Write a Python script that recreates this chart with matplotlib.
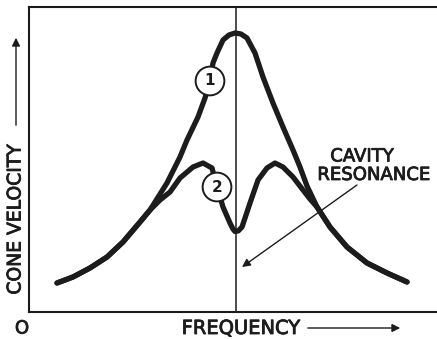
import matplotlib
matplotlib.use("Agg")
import matplotlib.pyplot as plt
import matplotlib.patheffects as pe

# Frequency (arbitrary units, 0-100) and cone velocity (arbitrary units, 0-100)
freq1 = [6.86, 10.78, 14.95, 19.12, 23.04, 27.21, 29.66, 33.82, 37.01, 38.73,
         41.42, 43.14, 44.36, 45.10, 46.08, 47.55, 49.02, 50.49, 51.96, 53.43,
         55.39, 57.35, 59.80, 62.25, 64.71, 66.42, 68.14, 70.59, 73.77, 77.94,
         82.84, 87.75, 92.65]
vel1 = [9.51, 11.48, 14.43, 18.03, 22.95, 29.51, 33.44, 42.30, 50.82, 56.39,
        63.93, 70.16, 75.74, 81.64, 84.92, 89.18, 90.82, 91.48, 91.15, 89.84,
        84.92, 77.05, 68.52, 60.66, 53.11, 47.54, 41.31, 34.43, 27.87, 21.31,
        16.07, 12.79, 9.84]

freq2 = [6.86, 10.78, 14.95, 19.12, 23.04, 27.21, 29.66, 32.11, 34.56, 37.01,
         40.20, 42.65, 44.85, 46.08, 47.55, 48.50, 49.26, 50.00, 50.49, 51.30,
         52.21, 54.17, 56.13, 58.33, 60.29, 62.25, 64.71, 67.16, 68.87, 70.59,
         73.77, 77.94, 82.84, 87.75, 92.65]
vel2 = [9.51, 11.48, 14.43, 18.03, 22.95, 29.51, 33.44, 36.72, 39.34, 43.93,
        47.54, 48.85, 47.21, 40.98, 34.43, 31.50, 29.18, 27.20, 26.40, 26.60,
        27.87, 35.74, 43.28, 47.21, 48.85, 47.54, 44.26, 40.00, 37.05, 34.43,
        27.87, 21.31, 16.07, 12.79, 9.84]

resonance_freq = 50.74
label1_pos = (44.36, 75.74)
label2_pos = (46.08, 40.98)
arrow_tail = (80.39, 41.64)
arrow_head = (52.21, 14.75)

fig = plt.figure(figsize=(4.37, 3.39), dpi=100)
ax = fig.add_axes([29/437, 27/339, 1 - 29/437, 305/339])
ax.set_xlim(0, 100)
ax.set_ylim(0, 100)
ax.set_xticks([])
ax.set_yticks([])
for s in ["left", "top", "bottom"]:
    ax.spines[s].set_linewidth(1.5)
    ax.spines[s].set_color("#1a1a1a")
ax.spines["right"].set_visible(False)

ink = "#1c1c1c"
ax.axvline(resonance_freq, color=ink, lw=1.1, zorder=1)
ax.plot(freq1, vel1, color=ink, lw=3.8, solid_capstyle="round",
        solid_joinstyle="round", zorder=2)
ax.plot(freq2, vel2, color=ink, lw=3.8, solid_capstyle="round",
        solid_joinstyle="round", zorder=2)

thick = [pe.withStroke(linewidth=0.6, foreground=ink)]
for txt, pos in [("1", label1_pos), ("2", label2_pos)]:
    ax.text(pos[0], pos[1], txt, ha="center", va="center", fontsize=11,
            fontweight="bold", color=ink, zorder=5,
            bbox=dict(boxstyle="circle,pad=0.45", fc="white", ec=ink, lw=1.4))

ax.annotate("", xy=arrow_head, xytext=arrow_tail,
            arrowprops=dict(arrowstyle="-|>", lw=1.0, color=ink,
                            mutation_scale=12, shrinkA=0, shrinkB=0), zorder=4)
ax.text(81.62, 51.0, "CAVITY", ha="center", va="center", fontsize=13,
        color=ink, path_effects=thick)
ax.text(84.44, 44.92, "RESONANCE", ha="center", va="center", fontsize=13,
        color=ink, path_effects=thick)

fig.text(241/437, 1 - 328.5/339, "FREQUENCY", ha="center", va="center",
         fontsize=14, color=ink, path_effects=thick)
fig.text(22/437, 1 - 328.5/339, "O", ha="center", va="center",
         fontsize=13, color=ink, path_effects=thick)
fig.text(15/437, 1 - 219.5/339, "CONE VELOCITY", ha="center", va="center",
         rotation=90, fontsize=13.5, color=ink, path_effects=thick)

fig.patches.append(matplotlib.patches.FancyArrowPatch(
    (305/437, 1 - 328/339), (403/437, 1 - 328/339), transform=fig.transFigure,
    arrowstyle="-|>", mutation_scale=12, lw=1.0, color=ink))
fig.patches.append(matplotlib.patches.FancyArrowPatch(
    (16/437, 1 - 128/339), (16/437, 1 - 35/339), transform=fig.transFigure,
    arrowstyle="-|>", mutation_scale=12, lw=1.0, color=ink))

fig.savefig("out.png", dpi=100, facecolor="white")
